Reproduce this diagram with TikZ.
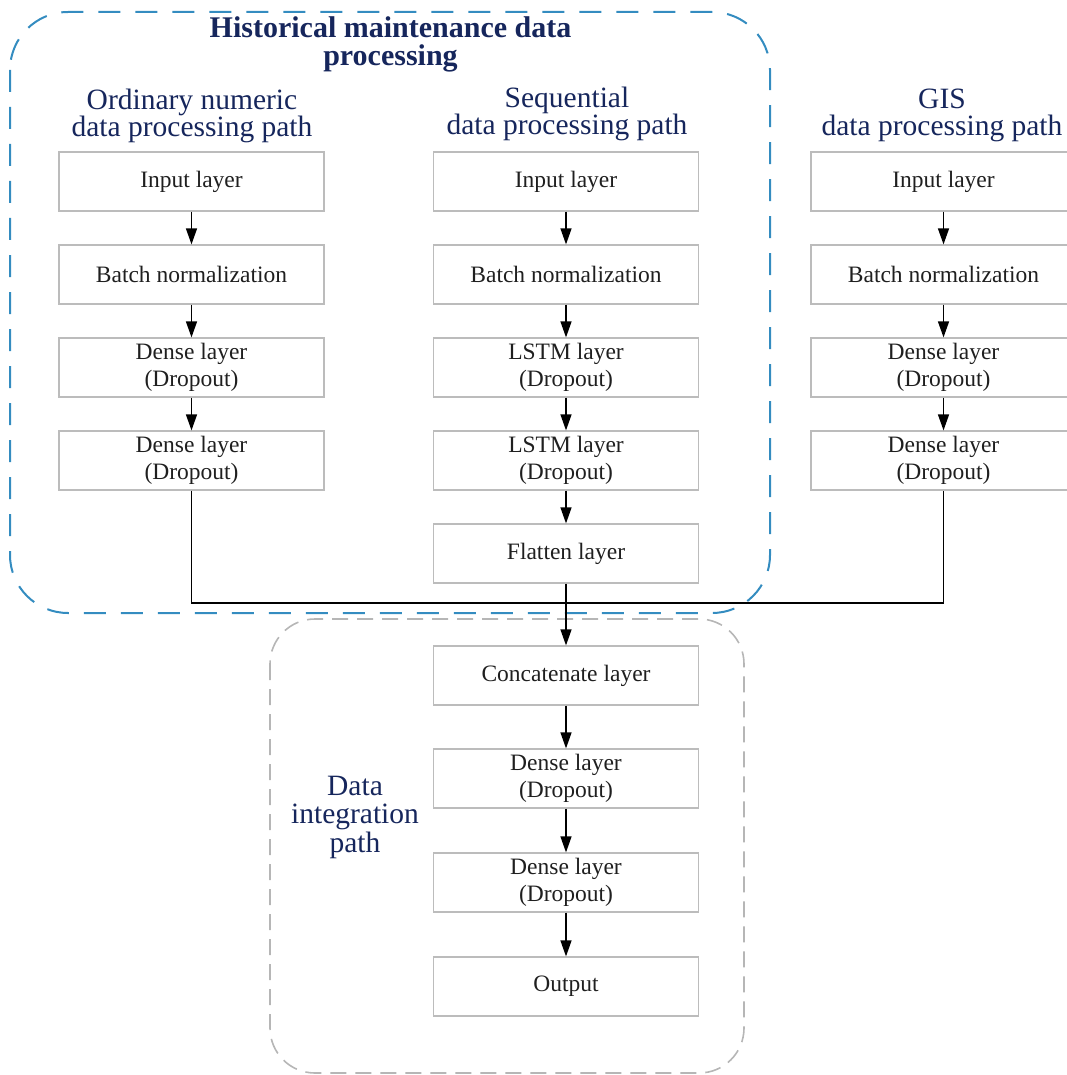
\documentclass[tikz,border=0pt]{standalone}
\usepackage{fontspec}
\setmainfont{Liberation Serif}
\usetikzlibrary{arrows.meta}
\definecolor{navy}{RGB}{22,38,92}
\definecolor{frameblue}{RGB}{52,140,192}
\definecolor{framegray}{RGB}{182,182,182}
\definecolor{boxgray}{RGB}{188,188,188}

\begin{document}
\begin{tikzpicture}[x=1pt,y=-1pt,
  layer/.style={draw=boxgray, line width=1.2pt, minimum width=265pt,
    minimum height=59pt, inner sep=0pt, align=center, text=black!88,
    font=\fontsize{23.5}{27}\selectfont},
  flow/.style={-{Triangle[length=16pt,width=11pt]}, line width=1.3pt},
  link/.style={line width=1.3pt},
  heading/.style={text=navy, align=center, anchor=base,
    font=\fontsize{29.5}{27}\selectfont},
  titletext/.style={text=navy, align=center, anchor=base,
    font=\bfseries\fontsize{30}{28.5}\selectfont},
  groupframe/.style={frameblue, line width=2pt, dash pattern=on 22pt off 15pt,
    rounded corners=58pt},
  mergeframe/.style={framegray, line width=1.6pt, dash pattern=on 16pt off 9pt,
    rounded corners=45pt}]

\useasboundingbox (0,0) rectangle (1066,1075);

% group frames
\draw[groupframe] (10,12) rectangle (770,613);
\draw[mergeframe] (270,619) rectangle (744,1073);

% titles (anchored at the baseline of their last line)
\node[titletext] (title) at (390.5,66) {Historical maintenance data\\processing};
\node[heading] (h1) at (192,137) {Ordinary numeric\\data processing path};
\node[heading] (h2) at (567,135) {Sequential\\data processing path};
\node[heading] (h3) at (942,136) {GIS\\data processing path};
\node[heading, font=\fontsize{29.5}{28.5}\selectfont] (h4) at (355,852) {Data\\integration\\path};

% ordinary numeric path
\node[layer] (o1) at (191.5,181.5) {Input layer};
\node[layer] (o2) at (191.5,274.5) {Batch normalization};
\node[layer] (o3) at (191.5,367.5) {Dense layer\\(Dropout)};
\node[layer] (o4) at (191.5,460.5) {Dense layer\\(Dropout)};

% sequential path
\node[layer] (s1) at (566,181.5) {Input layer};
\node[layer] (s2) at (566,274.5) {Batch normalization};
\node[layer] (s3) at (566,367.5) {LSTM layer\\(Dropout)};
\node[layer] (s4) at (566,460.5) {LSTM layer\\(Dropout)};
\node[layer] (s5) at (566,553.5) {Flatten layer};

% GIS path
\node[layer] (g1) at (943.5,181.5) {Input layer};
\node[layer] (g2) at (943.5,274.5) {Batch normalization};
\node[layer] (g3) at (943.5,367.5) {Dense layer\\(Dropout)};
\node[layer] (g4) at (943.5,460.5) {Dense layer\\(Dropout)};

% integration path
\node[layer] (c1) at (566,675.5) {Concatenate layer};
\node[layer] (c2) at (566,778.5) {Dense layer\\(Dropout)};
\node[layer] (c3) at (566,882.5) {Dense layer\\(Dropout)};
\node[layer] (c4) at (566,986.5) {Output};

% vertical flows
\foreach \a/\b in {o1/o2,o2/o3,o3/o4,s1/s2,s2/s3,s3/s4,s4/s5,g1/g2,g2/g3,g3/g4,s5/c1,c1/c2,c2/c3,c3/c4}
  \draw[flow] (\a.south) -- (\b.north);

% side paths joining the integration path
\coordinate (merge) at (566,603);
\draw[link] (o4.south) |- (merge) -| (g4.south);

\end{tikzpicture}
\end{document}
